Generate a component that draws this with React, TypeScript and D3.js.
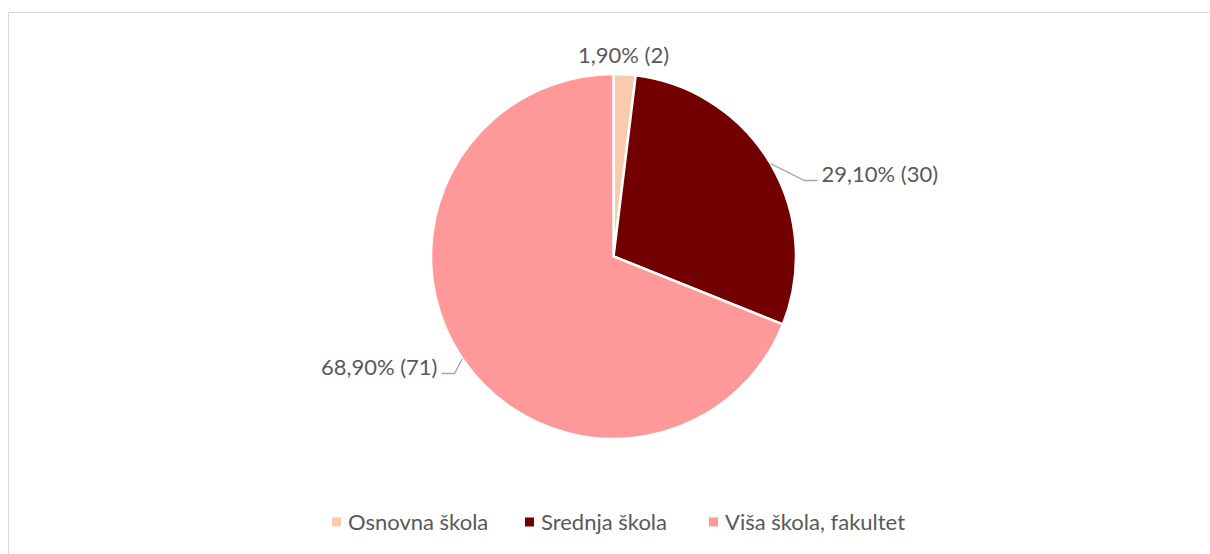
import React from 'react';
import * as d3 from 'd3';

// education level breakdown
const categories = ['Osnovna škola', 'Srednja škola', 'Viša škola, fakultet'];
const counts = [2, 30, 71];
const percentLabels = ['1,90%', '29,10%', '68,90%'];
const colors = ['#F8CBAD', '#720000', '#FF9999'];

const W = 1210;
const H = 554;
const cx = 613.5;
const cy = 256.5;
const radius = 182.5;
const font = 'Lato, "Open Sans", sans-serif';
const fontSize = 22;

// label placement (annotation layout, relative to pie centre)
const labelLayout = [
  {dx: 10, dy: -201, anchor: 'middle', leader: false},
  {dx: 208, dy: -82, anchor: 'start', leader: true},
  {dx: -176, dy: 111, anchor: 'end', leader: true},
];

const legendX = [332, 525, 709];

export default function App() {
  const pie = d3.pie<number>().sort(null).value((d) => d);
  const arcs = pie(counts);
  const arc = d3.arc<d3.PieArcDatum<number>>().innerRadius(0).outerRadius(radius);

  return (
    <svg
      width={W}
      height={H}
      style={{position: 'absolute', left: 0, top: 0, background: '#fff'}}
    >
      <line x1={8.5} y1={12.5} x2={W} y2={12.5} stroke="#d9d9d9" />
      <line x1={8.5} y1={12.5} x2={8.5} y2={H} stroke="#d9d9d9" />

      <g transform={`translate(${cx},${cy})`}>
        {arcs.map((a, i) => (
          <path key={i} d={arc(a) || ''} fill={colors[i]} stroke="#fff" strokeWidth={2.5} />
        ))}
        {arcs.map((a, i) => {
          const l = labelLayout[i];
          const mid = (a.startAngle + a.endAngle) / 2;
          const ex = Math.sin(mid) * radius;
          const ey = -Math.cos(mid) * radius;
          const side = l.anchor === 'start' ? 1 : -1;
          const endX = l.dx - side * 4;
          const elbowX = endX - side * 13;
          const lineY = l.dy + 6;
          return (
            <g key={i}>
              {l.leader && (
                <polyline
                  points={`${ex},${ey} ${elbowX},${lineY} ${endX},${lineY}`}
                  fill="none"
                  stroke="#a6a6a6"
                  strokeWidth={1.3}
                />
              )}
              <text
                x={l.dx}
                y={l.dy}
                dy="0.35em"
                textAnchor={l.anchor}
                fontFamily={font}
                fontSize={fontSize}
                fill="#595959"
              >
                {`${percentLabels[i]} (${counts[i]})`}
              </text>
            </g>
          );
        })}
      </g>

      <g transform="translate(0,522)">
        {categories.map((c, i) => (
          <g key={c} transform={`translate(${legendX[i]},0)`}>
            <rect x={0} y={-4.5} width={9} height={9} fill={colors[i]} />
            <text x={16} y={0} dy="0.35em" fontFamily={font} fontSize={fontSize} fill="#595959">
              {c}
            </text>
          </g>
        ))}
      </g>
    </svg>
  );
}
